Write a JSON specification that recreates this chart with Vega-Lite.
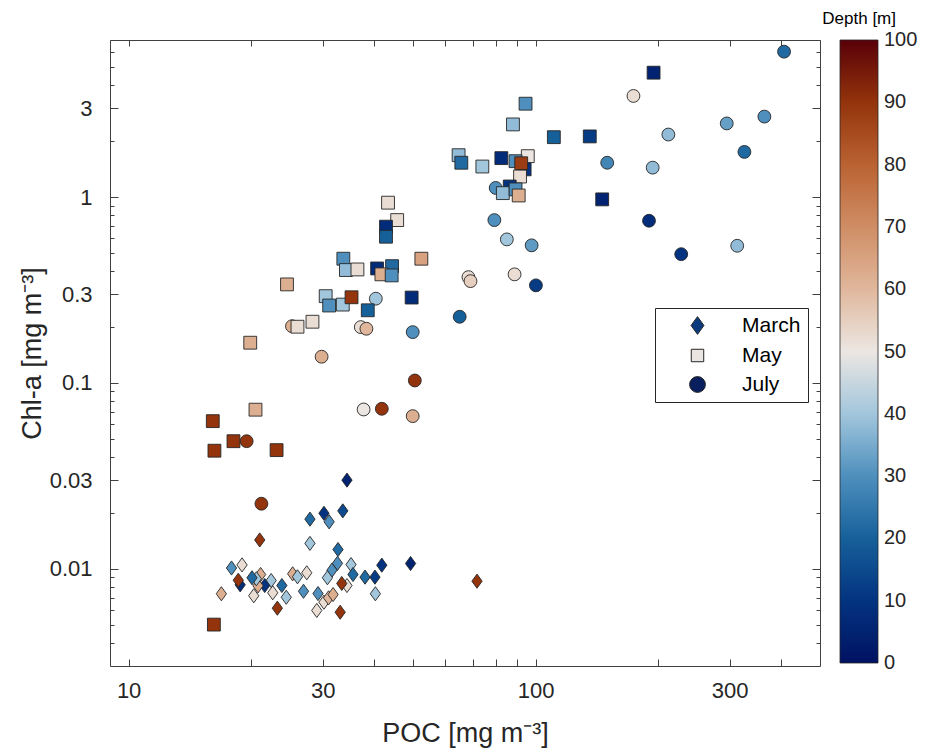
{
  "$schema": "https://vega.github.io/schema/vega-lite/v6.json",
  "width": 710,
  "height": 626,
  "autosize": {"type": "none"},
  "padding": {"left": 110, "top": 40, "right": 106, "bottom": 85},
  "background": "white",
  "config": {"view": {"stroke": null}, "font": "Liberation Sans"},
  "title": {"text": "Depth [m]", "orient": "top", "anchor": "end", "frame": "group", "dx": 76, "dy": 19, "offset": 7, "baseline": "alphabetic", "fontSize": 17, "fontWeight": "normal", "color": "#000000", "font": "Liberation Sans"},
  "data": {"values": [
    {"month": "July", "poc": 408, "chla": 6.06, "depth": 22},
    {"month": "July", "poc": 174, "chla": 3.5, "depth": 52},
    {"month": "July", "poc": 295, "chla": 2.49, "depth": 33},
    {"month": "July", "poc": 365, "chla": 2.71, "depth": 30},
    {"month": "July", "poc": 212, "chla": 2.17, "depth": 38},
    {"month": "July", "poc": 326, "chla": 1.75, "depth": 22},
    {"month": "July", "poc": 194, "chla": 1.44, "depth": 38},
    {"month": "July", "poc": 190, "chla": 0.746, "depth": 8},
    {"month": "July", "poc": 228, "chla": 0.493, "depth": 10},
    {"month": "July", "poc": 313, "chla": 0.547, "depth": 38},
    {"month": "July", "poc": 150, "chla": 1.53, "depth": 28},
    {"month": "July", "poc": 79.8, "chla": 1.12, "depth": 30},
    {"month": "July", "poc": 79.2, "chla": 0.752, "depth": 30},
    {"month": "July", "poc": 85.0, "chla": 0.592, "depth": 40},
    {"month": "July", "poc": 97.8, "chla": 0.55, "depth": 32},
    {"month": "July", "poc": 68.4, "chla": 0.371, "depth": 52},
    {"month": "July", "poc": 69.2, "chla": 0.353, "depth": 55},
    {"month": "July", "poc": 88.8, "chla": 0.384, "depth": 52},
    {"month": "July", "poc": 100.2, "chla": 0.335, "depth": 12},
    {"month": "July", "poc": 65.1, "chla": 0.227, "depth": 20},
    {"month": "July", "poc": 40.5, "chla": 0.284, "depth": 40},
    {"month": "July", "poc": 25.2, "chla": 0.202, "depth": 62},
    {"month": "July", "poc": 37.2, "chla": 0.1997, "depth": 52},
    {"month": "July", "poc": 38.4, "chla": 0.1957, "depth": 60},
    {"month": "July", "poc": 49.9, "chla": 0.1877, "depth": 30},
    {"month": "July", "poc": 29.8, "chla": 0.1384, "depth": 62},
    {"month": "July", "poc": 50.5, "chla": 0.1031, "depth": 90},
    {"month": "July", "poc": 37.8, "chla": 0.072, "depth": 50},
    {"month": "July", "poc": 41.9, "chla": 0.0726, "depth": 90},
    {"month": "July", "poc": 49.9, "chla": 0.0663, "depth": 62},
    {"month": "July", "poc": 19.5, "chla": 0.0486, "depth": 90},
    {"month": "July", "poc": 21.2, "chla": 0.0224, "depth": 90},
    {"month": "May", "poc": 195, "chla": 4.67, "depth": 5},
    {"month": "May", "poc": 94.5, "chla": 3.18, "depth": 30},
    {"month": "May", "poc": 88.0, "chla": 2.46, "depth": 38},
    {"month": "May", "poc": 110.9, "chla": 2.1, "depth": 20},
    {"month": "May", "poc": 135.9, "chla": 2.12, "depth": 12},
    {"month": "May", "poc": 145.8, "chla": 0.972, "depth": 5},
    {"month": "May", "poc": 82.4, "chla": 1.62, "depth": 8},
    {"month": "May", "poc": 95.7, "chla": 1.66, "depth": 50},
    {"month": "May", "poc": 89.3, "chla": 1.56, "depth": 30},
    {"month": "May", "poc": 94, "chla": 1.41, "depth": 10},
    {"month": "May", "poc": 92.2, "chla": 1.52, "depth": 88},
    {"month": "May", "poc": 91.6, "chla": 1.29, "depth": 52},
    {"month": "May", "poc": 74.0, "chla": 1.46, "depth": 40},
    {"month": "May", "poc": 64.7, "chla": 1.68, "depth": 38},
    {"month": "May", "poc": 65.7, "chla": 1.53, "depth": 22},
    {"month": "May", "poc": 86.4, "chla": 1.14, "depth": 10},
    {"month": "May", "poc": 83.1, "chla": 1.05, "depth": 38},
    {"month": "May", "poc": 89.3, "chla": 1.1, "depth": 30},
    {"month": "May", "poc": 90.9, "chla": 1.02, "depth": 62},
    {"month": "May", "poc": 43.4, "chla": 0.933, "depth": 52},
    {"month": "May", "poc": 45.7, "chla": 0.752, "depth": 52},
    {"month": "May", "poc": 42.9, "chla": 0.693, "depth": 8},
    {"month": "May", "poc": 42.9, "chla": 0.612, "depth": 20},
    {"month": "May", "poc": 33.7, "chla": 0.466, "depth": 30},
    {"month": "May", "poc": 34.2, "chla": 0.405, "depth": 38},
    {"month": "May", "poc": 36.5, "chla": 0.408, "depth": 52},
    {"month": "May", "poc": 40.8, "chla": 0.413, "depth": 8},
    {"month": "May", "poc": 44.4, "chla": 0.425, "depth": 22},
    {"month": "May", "poc": 41.8, "chla": 0.384, "depth": 62},
    {"month": "May", "poc": 44.3, "chla": 0.379, "depth": 30},
    {"month": "May", "poc": 52.4, "chla": 0.466, "depth": 65},
    {"month": "May", "poc": 24.5, "chla": 0.339, "depth": 62},
    {"month": "May", "poc": 30.5, "chla": 0.293, "depth": 40},
    {"month": "May", "poc": 31.1, "chla": 0.261, "depth": 30},
    {"month": "May", "poc": 33.6, "chla": 0.264, "depth": 40},
    {"month": "May", "poc": 35.3, "chla": 0.289, "depth": 90},
    {"month": "May", "poc": 38.7, "chla": 0.246, "depth": 20},
    {"month": "May", "poc": 49.6, "chla": 0.288, "depth": 8},
    {"month": "May", "poc": 26.0, "chla": 0.2007, "depth": 52},
    {"month": "May", "poc": 28.3, "chla": 0.2135, "depth": 52},
    {"month": "May", "poc": 19.9, "chla": 0.1646, "depth": 62},
    {"month": "May", "poc": 20.5, "chla": 0.0718, "depth": 62},
    {"month": "May", "poc": 16.1, "chla": 0.0623, "depth": 90},
    {"month": "May", "poc": 18.1, "chla": 0.0486, "depth": 90},
    {"month": "May", "poc": 16.25, "chla": 0.0432, "depth": 90},
    {"month": "May", "poc": 23.1, "chla": 0.0435, "depth": 90},
    {"month": "May", "poc": 16.2, "chla": 0.00501, "depth": 90},
    {"month": "March", "poc": 34.4, "chla": 0.03, "depth": 5},
    {"month": "March", "poc": 27.9, "chla": 0.0185, "depth": 22},
    {"month": "March", "poc": 30.2, "chla": 0.0199, "depth": 10},
    {"month": "March", "poc": 31.1, "chla": 0.0179, "depth": 30},
    {"month": "March", "poc": 33.6, "chla": 0.0205, "depth": 15},
    {"month": "March", "poc": 21.0, "chla": 0.0143, "depth": 90},
    {"month": "March", "poc": 27.9, "chla": 0.0137, "depth": 40},
    {"month": "March", "poc": 32.7, "chla": 0.0127, "depth": 22},
    {"month": "March", "poc": 32.6, "chla": 0.0107, "depth": 30},
    {"month": "March", "poc": 31.6, "chla": 0.00983, "depth": 30},
    {"month": "March", "poc": 30.8, "chla": 0.00895, "depth": 40},
    {"month": "March", "poc": 35.2, "chla": 0.01054, "depth": 40},
    {"month": "March", "poc": 35.6, "chla": 0.00932, "depth": 22},
    {"month": "March", "poc": 41.9, "chla": 0.01046, "depth": 10},
    {"month": "March", "poc": 49.3, "chla": 0.01068, "depth": 5},
    {"month": "March", "poc": 71.8, "chla": 0.00858, "depth": 90},
    {"month": "March", "poc": 38.1, "chla": 0.00902, "depth": 22},
    {"month": "March", "poc": 40.3, "chla": 0.00902, "depth": 12},
    {"month": "March", "poc": 40.4, "chla": 0.00734, "depth": 40},
    {"month": "March", "poc": 34.4, "chla": 0.00813, "depth": 52},
    {"month": "March", "poc": 33.4, "chla": 0.00834, "depth": 90},
    {"month": "March", "poc": 33.1, "chla": 0.00584, "depth": 90},
    {"month": "March", "poc": 23.2, "chla": 0.00614, "depth": 90},
    {"month": "March", "poc": 29.0, "chla": 0.00597, "depth": 52},
    {"month": "March", "poc": 30.2, "chla": 0.00661, "depth": 52},
    {"month": "March", "poc": 31.0, "chla": 0.00698, "depth": 60},
    {"month": "March", "poc": 31.8, "chla": 0.00727, "depth": 62},
    {"month": "March", "poc": 29.2, "chla": 0.00736, "depth": 30},
    {"month": "March", "poc": 26.9, "chla": 0.00757, "depth": 30},
    {"month": "March", "poc": 24.4, "chla": 0.00703, "depth": 40},
    {"month": "March", "poc": 22.6, "chla": 0.00743, "depth": 52},
    {"month": "March", "poc": 20.3, "chla": 0.00716, "depth": 52},
    {"month": "March", "poc": 16.9, "chla": 0.00734, "depth": 62},
    {"month": "March", "poc": 23.8, "chla": 0.00813, "depth": 22},
    {"month": "March", "poc": 22.4, "chla": 0.00865, "depth": 40},
    {"month": "March", "poc": 21.6, "chla": 0.00813, "depth": 10},
    {"month": "March", "poc": 20.8, "chla": 0.0081, "depth": 62},
    {"month": "March", "poc": 21.1, "chla": 0.00932, "depth": 62},
    {"month": "March", "poc": 20.6, "chla": 0.00884, "depth": 40},
    {"month": "March", "poc": 20.1, "chla": 0.00895, "depth": 22},
    {"month": "March", "poc": 17.9, "chla": 0.0101, "depth": 30},
    {"month": "March", "poc": 19.0, "chla": 0.0105, "depth": 52},
    {"month": "March", "poc": 18.8, "chla": 0.0082, "depth": 8},
    {"month": "March", "poc": 18.6, "chla": 0.00868, "depth": 90},
    {"month": "March", "poc": 25.3, "chla": 0.0094, "depth": 62},
    {"month": "March", "poc": 26.0, "chla": 0.00906, "depth": 40},
    {"month": "March", "poc": 27.4, "chla": 0.00952, "depth": 52}
  ]},
  "layer": [
    {
      "mark": {"type": "point", "filled": true, "size": 165, "stroke": "#262626", "strokeWidth": 0.9, "opacity": 1},
      "encoding": {
        "x": {
          "field": "poc", "type": "quantitative",
          "scale": {"type": "log", "domain": [9, 500], "nice": false},
          "axis": {
            "orient": "bottom", "title": "POC [mg m⁻³]",
            "values": [10, 20, 30, 40, 50, 60, 70, 80, 90, 100, 200, 300, 400],
            "labelExpr": "indexof([10, 30, 100, 300], datum.value) >= 0 ? '' + datum.value : ''",
            "tickSize": -7, "labelPadding": 21, "grid": false,
            "domainColor": "#404040", "tickColor": "#404040",
            "labelColor": "#262626", "labelFontSize": 22, "labelOverlap": false, "labelFlush": false,
            "titleFontSize": 27, "titleColor": "#262626", "titleFontWeight": "normal", "titlePadding": 19
          }
        },
        "y": {
          "field": "chla", "type": "quantitative",
          "scale": {"type": "log", "domain": [0.003, 7], "nice": false},
          "axis": {
            "orient": "left", "title": "Chl-a [mg m⁻³]",
            "values": [0.004, 0.005, 0.006, 0.007, 0.008, 0.009, 0.01, 0.02, 0.03, 0.04, 0.05, 0.06, 0.07, 0.08, 0.09, 0.1, 0.2, 0.3, 0.4, 0.5, 0.6, 0.7, 0.8, 0.9, 1, 2, 3, 4, 5, 6, 7],
            "labelExpr": "indexof([0.01, 0.03, 0.1, 0.3, 1, 3], datum.value) >= 0 ? '' + datum.value : ''",
            "tickSize": {"condition": {"test": "indexof([0.01, 0.03, 0.1, 0.3, 1, 3], datum.value) >= 0", "value": -8}, "value": -4},
            "labelPadding": 26, "grid": false,
            "domainColor": "#404040", "tickColor": "#404040",
            "labelColor": "#262626", "labelFontSize": 22, "labelOverlap": false, "labelFlush": false,
            "titleFontSize": 27, "titleColor": "#262626", "titleFontWeight": "normal", "titlePadding": 3
          }
        },
        "fill": {
          "field": "depth", "type": "quantitative",
          "scale": {
            "domain": [-0.001, 10, 20, 30, 40, 50, 60, 70, 80, 90, 100.001],
            "range": ["#001261", "#033380", "#16609A", "#4E8FBD", "#A2C6DC", "#ECE6E2", "#E0B79C", "#CF8D64", "#BA6232", "#93340C", "#590008"],
            "interpolate": "rgb"
          },
          "legend": {
            "orient": "none", "legendX": 730, "legendY": 0, "direction": "vertical",
            "title": null,
            "gradientLength": 623, "gradientThickness": 38,
            "gradientStrokeColor": "#262626", "gradientStrokeWidth": 0.8,
            "values": [0, 10, 20, 30, 40, 50, 60, 70, 80, 90, 100],
            "labelFontSize": 20, "labelOffset": 6, "labelColor": "#262626", "labelOverlap": false,
            "padding": 0
          }
        },
        "shape": {
          "field": "month", "type": "nominal",
          "scale": {"domain": ["March", "May", "July"], "range": ["M0,-1.1L0.8,0L0,1.1L-0.8,0Z", "square", "circle"]},
          "legend": null
        }
      }
    },
    {
      "transform": [{"filter": "false"}],
      "mark": {"type": "point", "filled": true, "stroke": "#262626", "strokeWidth": 1, "opacity": 1},
      "encoding": {
        "x": {"field": "poc", "type": "quantitative", "scale": {"type": "log", "domain": [9, 500], "nice": false}, "axis": null},
        "y": {"field": "chla", "type": "quantitative", "scale": {"type": "log", "domain": [0.003, 7], "nice": false}, "axis": null},
        "color": {
          "field": "month", "type": "nominal",
          "scale": {"domain": ["March", "May", "July"], "range": ["#0b3b7c", "#ebe5e2", "#0a1f5e"]},
          "legend": {
            "orient": "none", "legendX": 545, "legendY": 268, "title": null,
            "padding": 7, "strokeColor": "#262626", "fillColor": "white",
            "labelFontSize": 21, "labelColor": "#000000",
            "symbolStrokeColor": "#262626", "symbolStrokeWidth": 1,
            "symbolOffset": 25, "labelOffset": 34, "rowPadding": 7
          }
        },
        "shape": {
          "field": "month", "type": "nominal",
          "scale": {"domain": ["March", "May", "July"], "range": ["M0,-1.1L0.8,0L0,1.1L-0.8,0Z", "square", "circle"]},
          "legend": {
            "orient": "none", "legendX": 545, "legendY": 268, "title": null,
            "padding": 7, "strokeColor": "#262626", "fillColor": "white",
            "labelFontSize": 21, "labelColor": "#000000",
            "symbolStrokeColor": "#262626", "symbolStrokeWidth": 1,
            "symbolOffset": 25, "labelOffset": 34, "rowPadding": 7
          }
        },
        "size": {
          "field": "month", "type": "ordinal",
          "scale": {"type": "ordinal", "domain": ["March", "May", "July"], "range": [260, 155, 250]},
          "legend": {
            "orient": "none", "legendX": 545, "legendY": 268, "title": null,
            "padding": 7, "strokeColor": "#262626", "fillColor": "white",
            "labelFontSize": 21, "labelColor": "#000000",
            "symbolStrokeColor": "#262626", "symbolStrokeWidth": 1,
            "symbolOffset": 25, "labelOffset": 34, "rowPadding": 7
          }
        }
      }
    },
    {
      "mark": {"type": "point", "opacity": 0},
      "encoding": {
        "x": {
          "field": "poc", "type": "quantitative",
          "scale": {"type": "log", "domain": [9, 500], "nice": false},
          "axis": {
            "orient": "top", "title": null, "labels": false,
            "values": [10, 20, 30, 40, 50, 60, 70, 80, 90, 100, 200, 300, 400],
            "tickSize": -6, "grid": false, "domainColor": "#404040", "tickColor": "#404040"
          }
        },
        "y": {
          "field": "chla", "type": "quantitative",
          "scale": {"type": "log", "domain": [0.003, 7], "nice": false},
          "axis": {
            "orient": "right", "title": null, "labels": false,
            "values": [0.004, 0.005, 0.006, 0.007, 0.008, 0.009, 0.01, 0.02, 0.03, 0.04, 0.05, 0.06, 0.07, 0.08, 0.09, 0.1, 0.2, 0.3, 0.4, 0.5, 0.6, 0.7, 0.8, 0.9, 1, 2, 3, 4, 5, 6, 7],
            "tickSize": {"condition": {"test": "indexof([0.01, 0.03, 0.1, 0.3, 1, 3], datum.value) >= 0", "value": -8}, "value": -4},
            "grid": false, "domainColor": "#404040", "tickColor": "#404040"
          }
        }
      }
    }
  ],
  "resolve": {
    "axis": {"x": "independent", "y": "independent"},
    "legend": {"shape": "independent", "color": "independent", "size": "independent"}
  }
}
